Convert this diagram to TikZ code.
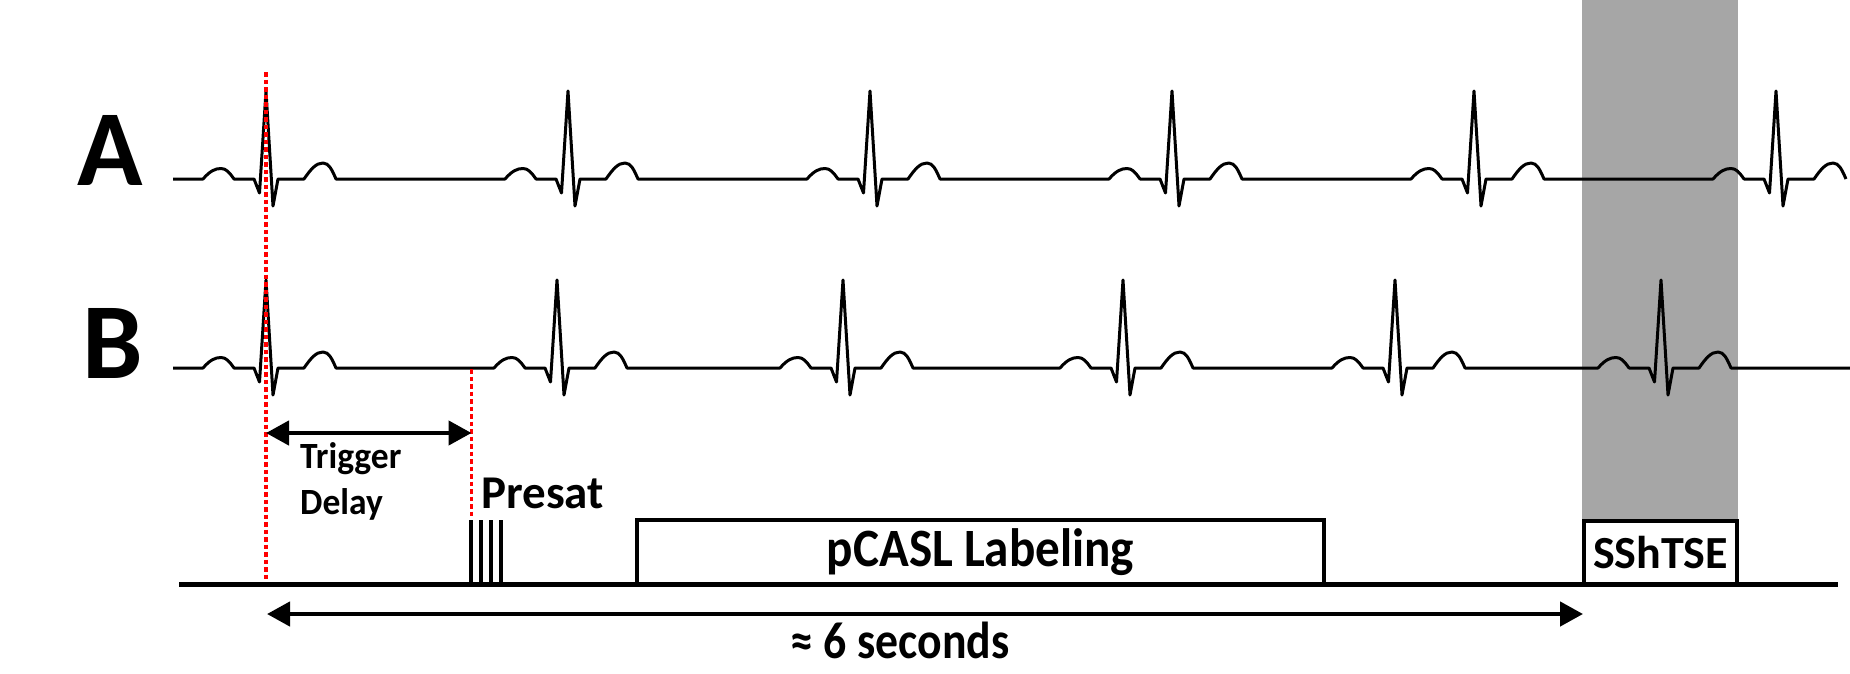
\documentclass[tikz,border=0pt]{standalone}
\usepackage{fontspec}
\setmainfont{Carlito}
\usetikzlibrary{arrows.meta}
\definecolor{bandgray}{HTML}{A6A6A6}
\definecolor{trigred}{HTML}{FF0000}
\tikzset{
  ecg/.style={line width=3pt, line join=round, black},
  reddot/.style={trigred, line width=3.5pt, dash pattern=on 4.5pt off 3pt},
  axisline/.style={line width=5pt, black},
  pulse/.style={line width=4pt, black},
  blockbox/.style={draw, line width=4.5pt, fill=white, inner sep=0pt},
  dimarrow/.style={line width=4.5pt, {Triangle[length=23pt,width=24pt]}-{Triangle[length=23pt,width=24pt]}},
  lbl/.style={inner sep=0pt, font=\bfseries},
}
\begin{document}
\begin{tikzpicture}[x=1pt,y=-1pt]
\useasboundingbox (0,0) rectangle (1850,673);
% grey acquisition band
\fill[bandgray] (1582,0) rectangle (1738,521);
% ECG traces
\foreach \bl/\rs/\xend in {179/{266,568,870,1172,1474,1776}/1846, 368/{266,557,843,1123,1395,1661}/1850}{
  \draw[ecg] (173,\bl)
    \foreach \r in \rs {
      -- ({\r-63},\bl)
      .. controls ({\r-56},{\bl-8}) and ({\r-51},{\bl-10.5}) .. ({\r-45},{\bl-10.5})
      .. controls ({\r-40},{\bl-10.5}) and ({\r-37},{\bl-7}) .. ({\r-32},\bl)
      -- ({\r-12},\bl) -- ({\r-6.5},{\bl+14}) -- (\r,{\bl-88}) -- ({\r+7},{\bl+27}) -- ({\r+12},\bl)
      -- ({\r+38},\bl)
      .. controls ({\r+45},{\bl-10}) and ({\r+50},{\bl-16}) .. ({\r+57},{\bl-16})
      .. controls ({\r+63},{\bl-16}) and ({\r+66},{\bl-9}) .. ({\r+70},\bl)
    } -- (\xend,\bl);
}
% row labels
\node[lbl, font=\fontsize{108}{110}\selectfont\bfseries, anchor=base] (labA) at (110,185) {A};
\node[lbl, font=\fontsize{108}{110}\selectfont\bfseries, anchor=base] (labB) at (113,378) {B};
% trigger lines
\coordinate (rtop) at (266,72);
\coordinate (rbot) at (266,582);
\coordinate (ptop) at (471.5,369);
\coordinate (pbot) at (471.5,517);
\draw[reddot] (rtop) -- (rbot);
\draw[reddot] (ptop) -- (pbot);
% trigger delay
\coordinate (td1) at (266,433);
\coordinate (td2) at (471.5,433);
\draw[dimarrow] (td1) -- (td2);
\node[lbl, font=\fontsize{37}{40}\selectfont\bfseries, anchor=base west] (trig) at (300,468) {\scalebox{0.96}[1]{Trigger}};
\node[lbl, font=\fontsize{37}{40}\selectfont\bfseries, anchor=base west] (delay) at (300,514) {\scalebox{0.96}[1]{Delay}};
% presat pulses
\foreach \px in {471,481,491,501}{
  \draw[pulse] (\px,520) -- (\px,584);
}
\node[lbl, font=\fontsize{47}{50}\selectfont\bfseries, anchor=base west] (presat) at (481,508) {Presat};
% blocks
\node[blockbox, minimum width=687pt, minimum height=64pt, font=\fontsize{54}{56}\selectfont\bfseries] (pcasl) at (980.5,552) {\scalebox{0.91}[1]{pCASL Labeling}};
\node[blockbox, minimum width=153pt, minimum height=63pt, font=\fontsize{46}{48}\selectfont\bfseries] (sshtse) at (1660.5,552.5) {SShTSE};
% time axis
\coordinate (ax1) at (179,584);
\coordinate (ax2) at (1838,584);
\draw[axisline] (ax1) -- (ax2);
% total duration
\coordinate (d1) at (267,614);
\coordinate (d2) at (1583,614);
\draw[dimarrow] (d1) -- (d2);
\node[lbl, font=\fontsize{52}{54}\selectfont\bfseries, anchor=base] (dur) at (900,658) {\scalebox{0.88}[1]{≈ 6 seconds}};
\end{tikzpicture}
\end{document}
